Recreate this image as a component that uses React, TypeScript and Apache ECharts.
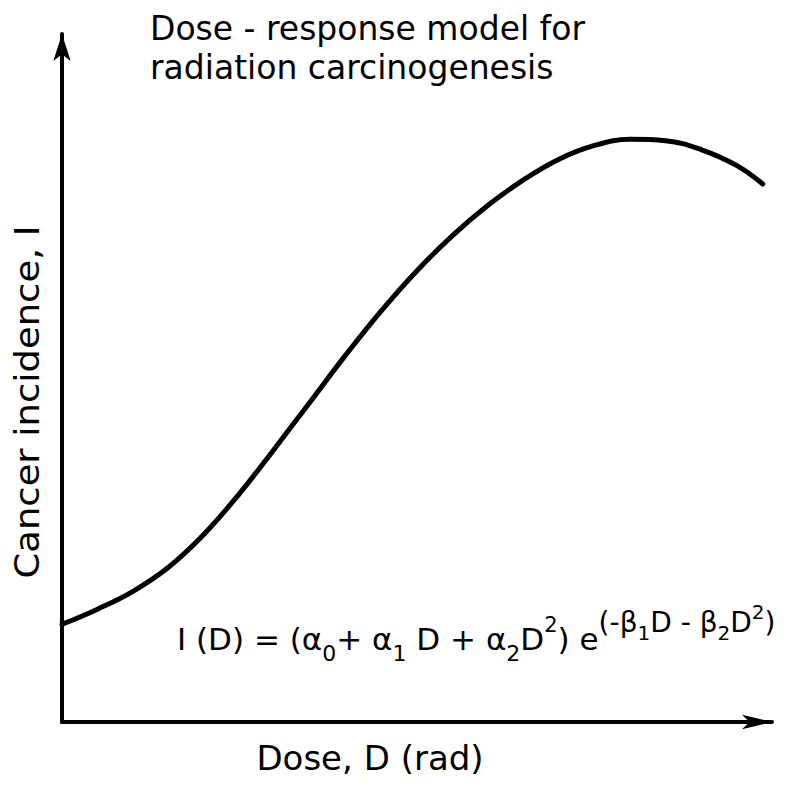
import React, { useEffect, useRef } from "react";
import * as echarts from "echarts";

// Dose (arbitrary units, 0..100) and cancer incidence (arbitrary units, 0..100)
const doseValues = [0, 5, 10, 15, 20, 25, 30, 35, 40, 45, 50, 55, 60, 65, 70, 75, 80, 85, 90, 95, 98.7];
const incidenceValues = [14.2, 16.4, 19.0, 22.5, 27.3, 33.2, 39.8, 46.6, 53.4, 59.8, 65.6, 70.7, 75.1, 78.8, 81.8, 83.8, 84.7, 84.5, 83.2, 80.9, 78.2];

const titleLines = ["Dose - response model for", "radiation carcinogenesis"];
const xAxisName = "Dose, D (rad)";
const yAxisName = "Cancer incidence, I";

const FONT = "DejaVu Sans";

export default function App() {
  const ref = useRef<HTMLDivElement>(null);
  useEffect(() => {
    if (!ref.current) return;
    const chart = echarts.init(ref.current, null, { renderer: "svg" });
    const data = doseValues.map((d, i) => [d, incidenceValues[i]]);
    const formula =
      "{m|I (D) = (α}{s|0}{m|+ α}{s|1}{m| D + α}{s|2}{m|D}{p|2}{m|) e}{e|(-β}{es|1}{e|D - β}{es|2}{e|D}{ep|2}{e|)}";
    chart.setOption({
      animation: false,
      backgroundColor: "#ffffff",
      title: {
        text: titleLines.join("\n"),
        left: 145,
        top: 4,
        textStyle: { fontFamily: FONT, fontSize: 33, fontWeight: "normal", color: "#000", lineHeight: 39 },
      },
      grid: { left: 62, right: 37, top: 34, bottom: 63, containLabel: false },
      xAxis: {
        type: "value",
        min: 0,
        max: 100,
        axisLine: { show: true, lineStyle: { color: "#000", width: 4 }, symbol: ["none", "arrow"], symbolSize: [11, 30] },
        axisTick: { show: false },
        axisLabel: { show: false },
        splitLine: { show: false },
      },
      yAxis: {
        type: "value",
        min: 0,
        max: 100,
        axisLine: { show: true, lineStyle: { color: "#000", width: 4 }, symbol: ["none", "arrow"], symbolSize: [13, 27] },
        axisTick: { show: false },
        axisLabel: { show: false },
        splitLine: { show: false },
      },
      series: [
        {
          type: "line",
          data,
          smooth: 0.4,
          showSymbol: false,
          lineStyle: { color: "#000", width: 5, cap: "round" },
        },
      ],
      graphic: [
        {
          type: "text",
          x: 27,
          y: 402,
          rotation: Math.PI / 2,
          scaleX: 1.12,
          style: { text: yAxisName, font: `33px '${FONT}'`, fill: "#000", align: "center", verticalAlign: "middle" },
        },
        {
          type: "text",
          x: 370,
          y: 758,
          style: { text: xAxisName, font: `34px '${FONT}'`, fill: "#000", align: "center", verticalAlign: "middle" },
        },
        {
          type: "text",
          x: 177,
          y: 633,
          style: {
            text: formula,
            fill: "#000",
            fontFamily: FONT,
            rich: {
              m: { fontFamily: FONT, fontSize: 31, lineHeight: 31, padding: [0, 0, 10, 0], verticalAlign: "bottom", color: "#000" },
              s: { fontFamily: FONT, fontSize: 22, lineHeight: 22, padding: [0, 0, 0, 0], verticalAlign: "bottom", color: "#000" },
              p: { fontFamily: FONT, fontSize: 21, lineHeight: 21, padding: [0, 0, 29, 0], verticalAlign: "bottom", color: "#000" },
              e: { fontFamily: FONT, fontSize: 28, lineHeight: 28, padding: [0, 0, 28, 0], verticalAlign: "bottom", color: "#000" },
              es: { fontFamily: FONT, fontSize: 20, lineHeight: 20, padding: [0, 0, 21, 0], verticalAlign: "bottom", color: "#000" },
              ep: { fontFamily: FONT, fontSize: 20, lineHeight: 20, padding: [0, 0, 42, 0], verticalAlign: "bottom", color: "#000" },
            },
          },
        },
      ],
    });
    return () => chart.dispose();
  }, []);
  return <div ref={ref} style={{ position: "absolute", left: 0, top: 0, width: 809, height: 785 }} />;
}
